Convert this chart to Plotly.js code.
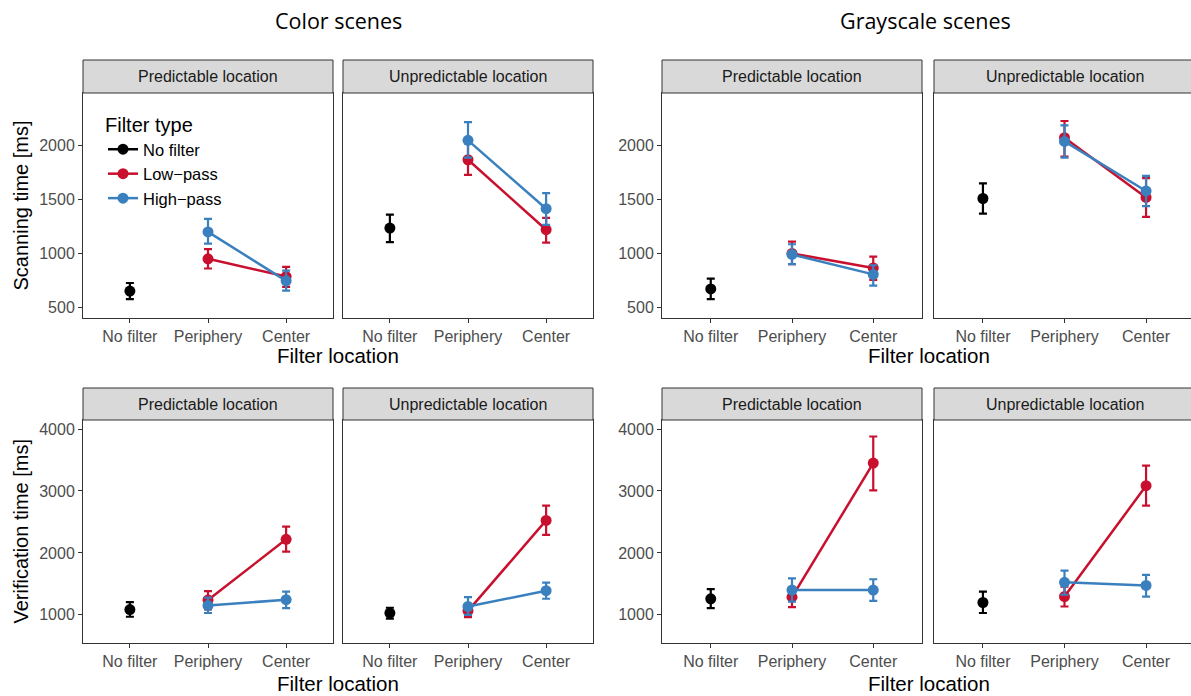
<!DOCTYPE html>
<html>
<head>
<meta charset="utf-8">
<script src="https://cdn.plot.ly/plotly-3.0.1.min.js"></script>
<style>
html,body{margin:0;padding:0;overflow:hidden;background:#fff;}
#chart{width:1195px;height:696px;}
</style>
</head>
<body>
<div id="chart"></div>
<script>
// ---------------- DATA ----------------
const locations = ["No filter", "Periphery", "Center"];
const filteredLocations = ["Periphery", "Center"];
const filterTypes = ["No filter", "Low-pass", "High-pass"];
const legendLabels = ["No filter", "Low\u2212pass", "High\u2212pass"];
const sceneTitles = ["Color scenes", "Grayscale scenes"];
const stripLabels = ["Predictable location", "Unpredictable location"];
const measureTitles = ["Scanning time [ms]", "Verification time [ms]"];
const xTitle = "Filter location";
// panel order: [color-predictable, color-unpredictable, gray-predictable, gray-unpredictable]

// Scanning time
const scanNoneMean = [650, 1235, 670, 1510];
const scanNoneLo   = [575, 1105, 575, 1370];
const scanNoneHi   = [725, 1360, 765, 1650];
const scanLowMean  = [[950, 785], [1870, 1220], [1000, 865], [2075, 1520]];
const scanLowLo    = [[860, 690], [1730, 1100], [900, 755], [1900, 1340]];
const scanLowHi    = [[1040, 875], [2030, 1330], [1110, 970], [2230, 1700]];
const scanHighMean = [[1200, 745], [2050, 1415], [990, 805], [2040, 1580]];
const scanHighLo   = [[1090, 655], [1890, 1265], [900, 700], [1890, 1440]];
const scanHighHi   = [[1320, 840], [2220, 1560], [1085, 890], [2190, 1720]];

// Verification time
const verNoneMean = [1085, 1030, 1260, 1200];
const verNoneLo   = [970, 940, 1110, 1030];
const verNoneHi   = [1205, 1115, 1415, 1375];
const verLowMean  = [[1240, 2220], [1065, 2525], [1285, 3450], [1295, 3085]];
const verLowLo    = [[1090, 2020], [965, 2290], [1125, 3010], [1135, 2765]];
const verLowHi    = [[1385, 2425], [1165, 2765], [1445, 3880], [1455, 3410]];
const verHighMean = [[1150, 1245], [1135, 1390], [1400, 1400], [1525, 1475]];
const verHighLo   = [[1030, 1110], [1000, 1260], [1215, 1225], [1325, 1295]];
const verHighHi   = [[1280, 1375], [1285, 1520], [1590, 1575], [1715, 1645]];

const scanTicks = [500, 1000, 1500, 2000];
const verTicks = [1000, 2000, 3000, 4000];

// ---------------- LAYOUT GEOMETRY ----------------
const W = 1195, H = 696;
const colorsBy = {"No filter": "#000000", "Low-pass": "#C8102E", "High-pass": "#3A80BF"};
const colPx = [[83, 333], [343, 593], [662, 922], [934, 1195]];
const rowPx = [[93, 318], [420, 643]];
const stripPx = [[60, 93], [388, 420]];
const yRanges = [[400, 2490], [546, 4146]];
const px2x = p => p / W;
const px2y = p => 1 - p / H;
const FONT = "Liberation Sans, Arial, Helvetica, sans-serif";

const measures = [
  {none: [scanNoneMean, scanNoneLo, scanNoneHi], low: [scanLowMean, scanLowLo, scanLowHi], high: [scanHighMean, scanHighLo, scanHighHi], ticks: scanTicks},
  {none: [verNoneMean, verNoneLo, verNoneHi], low: [verLowMean, verLowLo, verLowHi], high: [verHighMean, verHighLo, verHighHi], ticks: verTicks}
];

const traces = [];
const layout = {
  width: W, height: H,
  margin: {l: 0, r: 0, t: 0, b: 0},
  paper_bgcolor: "#ffffff", plot_bgcolor: "#ffffff",
  font: {family: FONT, color: "#000"},
  showlegend: true,
  legend: {
    x: px2x(103), y: px2y(106), xanchor: "left", yanchor: "top",
    bgcolor: "rgba(255,255,255,0)",
    font: {family: FONT, size: 16.5, color: "#000"},
    title: {text: "Filter type", font: {family: FONT, size: 20, color: "#000"}},
    tracegroupgap: 0,
    itemwidth: 30
  },
  shapes: [], annotations: []
};

function errObj(mean, lo, hi, color) {
  return {
    type: "data", symmetric: false,
    array: hi.map((h, i) => h - mean[i]),
    arrayminus: lo.map((l, i) => mean[i] - l),
    color: color, thickness: 2.2, width: 4
  };
}

for (let r = 0; r < 2; r++) {
  const m = measures[r];
  for (let c = 0; c < 4; c++) {
    const idx = r * 4 + c + 1;
    const xa = idx === 1 ? "x" : "x" + idx;
    const ya = idx === 1 ? "y" : "y" + idx;
    const xKey = idx === 1 ? "xaxis" : "xaxis" + idx;
    const yKey = idx === 1 ? "yaxis" : "yaxis" + idx;
    const showY = (c === 0 || c === 2);
    layout[xKey] = {
      domain: [px2x(colPx[c][0]), px2x(colPx[c][1])],
      anchor: ya, type: "category",
      categoryorder: "array", categoryarray: locations,
      range: [-0.6, 2.6], fixedrange: true,
      showgrid: false, zeroline: false,
      showline: true, mirror: true, linecolor: "#333333", linewidth: 1,
      ticks: "outside", ticklen: 4, tickwidth: 1, tickcolor: "#333333",
      tickfont: {family: FONT, size: 16, color: "#4d4d4d"}
    };
    layout[yKey] = {
      domain: [px2y(rowPx[r][1]), px2y(rowPx[r][0])],
      anchor: xa, range: yRanges[r], fixedrange: true,
      showgrid: false, zeroline: false,
      showline: true, mirror: true, linecolor: "#333333", linewidth: 1,
      tickmode: "array", tickvals: m.ticks, ticktext: m.ticks.map(String),
      ticks: showY ? "outside" : "", ticklen: 4, tickwidth: 1, tickcolor: "#333333",
      showticklabels: showY,
      tickfont: {family: FONT, size: 16, color: "#4d4d4d"}
    };
    // strip
    layout.shapes.push({
      type: "rect", xref: "paper", yref: "paper",
      x0: px2x(colPx[c][0]), x1: px2x(colPx[c][1]),
      y0: px2y(stripPx[r][1]), y1: px2y(stripPx[r][0]),
      fillcolor: "#D9D9D9", line: {color: "#333333", width: 1}, layer: "above"
    });
    layout.annotations.push({
      xref: "paper", yref: "paper",
      x: px2x((colPx[c][0] + colPx[c][1]) / 2), y: px2y((stripPx[r][0] + stripPx[r][1]) / 2),
      text: stripLabels[c % 2], showarrow: false, xanchor: "center", yanchor: "middle",
      font: {family: FONT, size: 16, color: "#1a1a1a"}
    });

    const first = (idx === 1);
    // No filter
    traces.push({
      type: "scatter", mode: "lines+markers", xaxis: xa, yaxis: ya,
      x: [locations[0]], y: [m.none[0][c]],
      name: legendLabels[0], legendgroup: filterTypes[0], showlegend: first,
      marker: {color: colorsBy[filterTypes[0]], size: 11},
      line: {color: colorsBy[filterTypes[0]], width: 2.5},
      error_y: errObj([m.none[0][c]], [m.none[1][c]], [m.none[2][c]], colorsBy[filterTypes[0]]),
      hoverinfo: "skip"
    });
    // Low-pass
    traces.push({
      type: "scatter", mode: "lines+markers", xaxis: xa, yaxis: ya,
      x: filteredLocations, y: m.low[0][c],
      name: legendLabels[1], legendgroup: filterTypes[1], showlegend: first,
      marker: {color: colorsBy[filterTypes[1]], size: 11},
      line: {color: colorsBy[filterTypes[1]], width: 2.5},
      error_y: errObj(m.low[0][c], m.low[1][c], m.low[2][c], colorsBy[filterTypes[1]]),
      hoverinfo: "skip"
    });
    // High-pass
    traces.push({
      type: "scatter", mode: "lines+markers", xaxis: xa, yaxis: ya,
      x: filteredLocations, y: m.high[0][c],
      name: legendLabels[2], legendgroup: filterTypes[2], showlegend: first,
      marker: {color: colorsBy[filterTypes[2]], size: 11},
      line: {color: colorsBy[filterTypes[2]], width: 2.5},
      error_y: errObj(m.high[0][c], m.high[1][c], m.high[2][c], colorsBy[filterTypes[2]]),
      hoverinfo: "skip"
    });
  }
  // y-axis title
  layout.annotations.push({
    xref: "paper", yref: "paper", x: px2x(20), y: px2y((rowPx[r][0] + rowPx[r][1]) / 2),
    text: measureTitles[r], showarrow: false, textangle: -90,
    xanchor: "center", yanchor: "middle",
    font: {family: FONT, size: 20, color: "#000"}
  });
  // x-axis titles
  const xTitleY = r === 0 ? 355 : 683;
  [[colPx[0][0], colPx[1][1]], [colPx[2][0], colPx[3][1]]].forEach(span => {
    layout.annotations.push({
      xref: "paper", yref: "paper", x: px2x((span[0] + span[1]) / 2), y: px2y(xTitleY),
      text: xTitle, showarrow: false, xanchor: "center", yanchor: "middle",
      font: {family: FONT, size: 20.5, color: "#000"}
    });
  });
}
// scene titles
[[338, sceneTitles[0]], [925, sceneTitles[1]]].forEach(([cx, t]) => {
  layout.annotations.push({
    xref: "paper", yref: "paper", x: px2x(cx), y: px2y(21),
    text: t, showarrow: false, xanchor: "center", yanchor: "middle",
    font: {family: "Open Sans, Noto Sans, sans-serif", size: 21.5, color: "#000"}
  });
});

Plotly.newPlot("chart", traces, layout, {staticPlot: true, displayModeBar: false});
</script>
</body>
</html>
